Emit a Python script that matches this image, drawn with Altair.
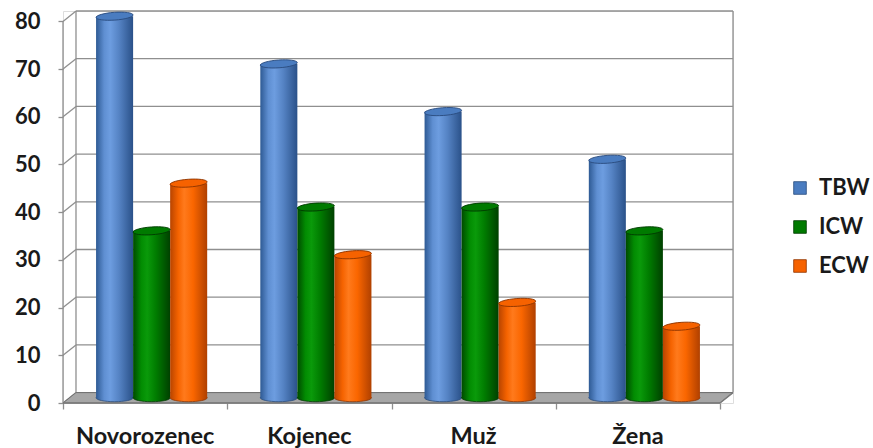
import altair as alt
import pandas as pd

# --- chart values -----------------------------------------------------------
categories = ["Novorozenec", "Kojenec", "Muž", "Žena"]
series = ["TBW", "ICW", "ECW"]
tbw = [80, 70, 60, 50]
icw = [35, 40, 40, 35]
ecw = [45, 30, 20, 15]
y_ticks = [0, 10, 20, 30, 40, 50, 60, 70, 80]

# --- geometry of the pseudo-3D box (in data units) ----------------------------
W, H = 670, 392            # plot area in px
BAR_W = 0.2255             # width of one cylinder, in category units
DX = 0.0791                # depth of the box along x (category units)
DY = 2.18                  # depth of the box along y (value units)
X_MAX = len(categories) + DX
Y_MAX = max(y_ticks) + DY

FONT = "Lato"
TXT = "#1a1a1a"
GRID = "#8f8f8f"

values = {"TBW": tbw, "ICW": icw, "ECW": ecw}
rows = []
for j, s in enumerate(series):
    for i, c in enumerate(categories):
        v = values[s][i]
        xc = i + 0.5 + (j - 1) * BAR_W + DX / 2
        rows.append({
            "category": c, "series": s, "value": v,
            "x0": xc - BAR_W / 2, "x1": xc + BAR_W / 2, "xc": xc,
            "base": DY / 2, "top": v + DY / 2,
        })
bars = pd.DataFrame(rows)

xs = alt.Scale(domain=[0, X_MAX], nice=False, zero=False)
ys = alt.Scale(domain=[0, Y_MAX], nice=False, zero=False)

# back wall gridlines, left-wall diagonals and box edges
grid = pd.DataFrame({"v": y_ticks})
grid["vb"] = grid["v"] + DY
back_lines = alt.Chart(grid).mark_rule(color=GRID, strokeWidth=1.3).encode(
    x=alt.X("xa:Q", scale=xs), x2="xb:Q",
    y=alt.Y("vb:Q", scale=ys), y2="vb:Q",
).transform_calculate(xa=f"{DX}", xb=f"{X_MAX}")
diag_lines = alt.Chart(grid).mark_rule(color=GRID, strokeWidth=1.3).encode(
    x=alt.X("xa:Q", scale=xs), x2="xb:Q",
    y=alt.Y("v:Q", scale=ys), y2="vb:Q",
).transform_calculate(xa="0", xb=f"{DX}")

edges = pd.DataFrame({
    "xa": [0, DX, X_MAX],
    "xb": [0, DX, X_MAX],
    "ya": [0, DY, DY],
    "yb": [max(y_ticks), Y_MAX, Y_MAX],
})
edge_lines = alt.Chart(edges).mark_rule(color=GRID, strokeWidth=1.3).encode(
    x=alt.X("xa:Q", scale=xs), x2="xb:Q",
    y=alt.Y("ya:Q", scale=ys), y2="yb:Q",
)

# grey floor (parallelogram)
floor = pd.DataFrame({
    "x": [0, DX, len(categories), X_MAX],
    "lo": [0, 0, 0, DY],
    "hi": [0, DY, DY, DY],
})
floor_area = alt.Chart(floor).mark_area(
    color="#a6a6a6", stroke="#6f6f6f", strokeWidth=1, opacity=1
).encode(
    x=alt.X("x:Q", scale=xs), y=alt.Y("lo:Q", scale=ys), y2="hi:Q"
)
front_edge = pd.DataFrame({"xa": [0, len(categories)], "xb": [len(categories), X_MAX],
                           "ya": [0, 0], "yb": [0, DY]})
front_lines = alt.Chart(front_edge).mark_rule(color="#7a7a7a", strokeWidth=1.4).encode(
    x=alt.X("xa:Q", scale=xs), x2="xb:Q",
    y=alt.Y("ya:Q", scale=ys), y2="yb:Q",
)

# axes: y ticks/labels on the front edge, x ticks between categories
axis_y = alt.Chart(grid).mark_point(opacity=0).encode(
    y=alt.Y("v:Q", scale=ys, title=None,
            axis=alt.Axis(values=y_ticks, domain=False, grid=False, tickSize=5,
                          tickColor=GRID, tickWidth=1.3, labelPadding=18,
                          labelFont=FONT, labelFontSize=22, labelFontWeight="bold",
                          labelColor=TXT)),
    x=alt.X("xa:Q", scale=xs, title=None,
            axis=alt.Axis(values=list(range(len(categories) + 1)), domain=False,
                          grid=False, labels=False, tickSize=6, tickColor=GRID,
                          tickWidth=1.3)),
).transform_calculate(xa="0")

cat_df = pd.DataFrame({"category": categories, "xm": [i + 0.5 for i in range(len(categories))]})
cat_labels = alt.Chart(cat_df).mark_text(
    font=FONT, fontSize=23.5, fontWeight="bold", color=TXT, baseline="alphabetic"
).encode(x=alt.X("xm:Q", scale=xs), y=alt.value(H + 41), text="category:N")

# cylinders
shade = {
    "TBW": ["#2e5a94", "#5f8fd2", "#6d9de0", "#5583c4", "#2a5189"],
    "ICW": ["#004a00", "#028c02", "#0a9a0a", "#007c00", "#004000"],
    "ECW": ["#b84400", "#f56300", "#ff7a1c", "#fa6600", "#b04000"],
}
rim = {"TBW": "#2a4c7e", "ICW": "#003a00", "ECW": "#8f3500"}
cap = {"TBW": "#4a7cc0", "ICW": "#007a00", "ECW": "#f66200"}


def gradient(s):
    c = shade[s]
    offs = [0, 0.22, 0.38, 0.62, 1]
    return alt.LinearGradient(
        gradient="linear", x1=0, x2=1, y1=0, y2=0,
        stops=[alt.GradientStop(offset=o, color=col) for o, col in zip(offs, c)],
    )


ELLIPSE = "M-1,0A1,0.21,0,1,1,1,0A1,0.21,0,1,1,-1,0Z"
SZ = (BAR_W / X_MAX * W) ** 2

layers = [back_lines, diag_lines, edge_lines, floor_area, front_lines, axis_y]
for s in series:
    sub = alt.Chart(bars).transform_filter(alt.datum.series == s)
    layers.append(sub.mark_point(shape=ELLIPSE, size=SZ, filled=True, fill=gradient(s),
                                 stroke=rim[s], strokeWidth=0.8, opacity=1).encode(
        x=alt.X("xc:Q", scale=xs), y=alt.Y("base:Q", scale=ys)))
    layers.append(sub.mark_rect(fill=gradient(s)).encode(
        x=alt.X("x0:Q", scale=xs), x2="x1:Q",
        y=alt.Y("base:Q", scale=ys), y2="top:Q"))

tops = alt.Chart(bars).mark_point(shape=ELLIPSE, size=SZ, filled=True, opacity=1,
                                  strokeWidth=0.9, angle=356).encode(
    x=alt.X("xc:Q", scale=xs),
    y=alt.Y("top:Q", scale=ys),
    color=alt.Color("series:N", scale=alt.Scale(domain=series, range=[cap[s] for s in series]),
                    legend=alt.Legend(title=None, orient="none", legendX=726, legendY=166,
                                      symbolType="square", symbolSize=160,
                                      symbolStrokeColor="#555555", symbolStrokeWidth=0.8,
                                      labelFont=FONT, labelFontSize=22, labelFontWeight="bold",
                                      labelColor=TXT, labelOffset=8, rowPadding=17,
                                      padding=0)),
    stroke=alt.Stroke("series:N", scale=alt.Scale(domain=series, range=[rim[s] for s in series]),
                      legend=None),
)
layers += [tops, cat_labels]

chart = alt.layer(*layers).properties(
    width=W, height=H,
    autosize=alt.AutoSizeParams(type="none"),
    padding={"left": 63, "top": 11, "right": 873 - 63 - W, "bottom": 448 - 11 - H},
).configure_view(stroke=None).configure(background="white")

chart.save("out.html", embed_options={"renderer": "svg", "actions": False})
